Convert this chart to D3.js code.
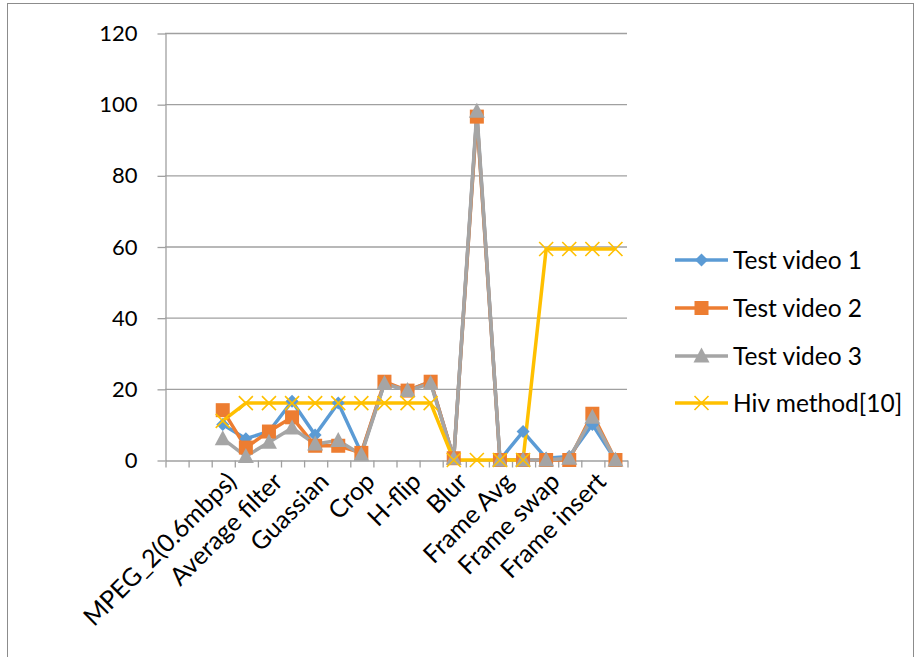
<!DOCTYPE html>
<html>
<head>
<meta charset="utf-8">
<script src="https://cdn.jsdelivr.net/npm/d3@7/dist/d3.min.js"></script>
<style>
  html, body { margin: 0; padding: 0; background: #fff; }
  svg { display: block; font-family: Lato, "Open Sans", sans-serif; }
</style>
</head>
<body>
<svg id="chart" width="917" height="657"></svg>
<script>
// ---- data ----
const categories = ["", "", "MPEG_2(0.6mbps)", "", "Average filter", "", "Guassian", "", "Crop", "",
  "H-flip", "", "Blur", "", "Frame Avg", "", "Frame swap", "", "Frame insert", ""];
const seriesNames = ["Test video 1", "Test video 2", "Test video 3", "Hiv method[10]"];
const testVideo1 = [null, null, 10, 6, 8, 16.5, 7, 16, 2, 21.5, 19.5, 22, 0.5, 97, 0, 8, 0.5, 1, 10, 0];
const testVideo2 = [null, null, 14, 3.5, 8, 12, 4, 4, 2, 22, 19.5, 22, 0.5, 96.5, 0, 0, 0, 0, 13, 0];
const testVideo3 = [null, null, 6, 1, 5, 9, 4.5, 5.5, 1.5, 21.5, 19.5, 21.5, 0.5, 98, 0, 0, 0, 0.5, 12, 0];
const hivMethod  = [null, null, 11, 16, 16, 16, 16, 16, 16, 16, 16, 16, 0, 0, 0, 0, 59.3, 59.3, 59.3, 59.3];
const yTicks = [0, 20, 40, 60, 80, 100, 120];
const colors = ["#5b9bd5", "#ed7d31", "#a5a5a5", "#ffc000"];
const markers = ["diamond", "square", "triangle", "cross"];

// ---- layout ----
const svg = d3.select("#chart");
const plot = { left: 165, right: 627, top: 33, bottom: 460 };

// border
svg.append("rect").attr("x", 7.5).attr("y", 3.5).attr("width", 906).attr("height", 670)
  .attr("fill", "none").attr("stroke", "#8c8c8c").attr("stroke-width", 1);

const x = d3.scaleBand().domain(d3.range(categories.length)).range([plot.left, plot.right]).padding(0);
const xEdge = d3.scaleLinear().domain([0, categories.length]).range([plot.left, plot.right]);
const y = d3.scaleLinear().domain([0, 120]).range([plot.bottom, plot.top]);

// gridlines
svg.append("g").selectAll("line").data(yTicks.filter(t => t > 0)).join("line")
  .attr("x1", plot.left).attr("x2", plot.right)
  .attr("y1", d => y(d) + 0.5).attr("y2", d => y(d) + 0.5)
  .attr("stroke", "#a0a0a0").attr("stroke-width", 1.3);

// y axis
const yAxis = svg.append("g").attr("transform", `translate(${plot.left + 0.5},0.5)`)
  .call(d3.axisLeft(y).tickValues(yTicks).tickSizeInner(8).tickSizeOuter(0).tickPadding(20));
yAxis.select(".domain").attr("stroke", "#a0a0a0").attr("stroke-width", 1.3);
yAxis.selectAll(".tick line").attr("stroke", "#a0a0a0").attr("stroke-width", 1.3);
yAxis.selectAll(".tick text").attr("font-size", 22).attr("fill", "#000")
  .attr("font-family", "Lato, sans-serif");

// x axis (tick marks between categories)
const xAxis = svg.append("g").attr("transform", `translate(0.5,${plot.bottom + 0.5})`)
  .call(d3.axisBottom(xEdge).tickValues(d3.range(categories.length + 1)).tickFormat("")
    .tickSizeInner(7).tickSizeOuter(0));
xAxis.select(".domain").attr("stroke", "#a0a0a0").attr("stroke-width", 1.3);
xAxis.selectAll(".tick line").attr("stroke", "#a0a0a0").attr("stroke-width", 1.3);

// x labels
svg.append("g").selectAll("text")
  .data(categories.map((c, i) => ({ c, i })).filter(d => d.c !== ""))
  .join("text")
  .attr("transform", d => `translate(${x(d.i) + x.bandwidth() / 2 + 9},${plot.bottom + 17}) rotate(-45)`)
  .attr("text-anchor", "end").attr("dy", "0.35em")
  .attr("font-size", 25).attr("fill", "#000")
  .text(d => d.c);

// series
const allSeries = [testVideo1, testVideo2, testVideo3, hivMethod];
const line = d3.line()
  .defined(d => d != null)
  .x((d, i) => x(i) + x.bandwidth() / 2)
  .y(d => y(d));

allSeries.forEach((s, k) => {
  svg.append("path").datum(s)
    .attr("fill", "none").attr("stroke", colors[k]).attr("stroke-width", 3.5)
    .attr("stroke-linejoin", "round").attr("d", line);
});

function drawMarker(g, type, color, cx, cy) {
  if (type === "diamond") {
    g.append("path").attr("d", `M${cx},${cy - 6.5}L${cx + 6.5},${cy}L${cx},${cy + 6.5}L${cx - 6.5},${cy}Z`)
      .attr("fill", color);
  } else if (type === "square") {
    g.append("rect").attr("x", cx - 7).attr("y", cy - 7).attr("width", 14).attr("height", 14)
      .attr("fill", color);
  } else if (type === "triangle") {
    g.append("path").attr("d", `M${cx},${cy - 8.5}L${cx + 8},${cy + 6.5}L${cx - 8},${cy + 6.5}Z`)
      .attr("fill", color);
  } else if (type === "cross") {
    g.append("path").attr("d", `M${cx - 7},${cy - 7}L${cx + 7},${cy + 7}M${cx + 7},${cy - 7}L${cx - 7},${cy + 7}`)
      .attr("stroke", color).attr("stroke-width", 1.6).attr("fill", "none");
  }
}

allSeries.forEach((s, k) => {
  const g = svg.append("g");
  s.forEach((v, i) => {
    if (v == null) return;
    drawMarker(g, markers[k], colors[k], x(i) + x.bandwidth() / 2, y(v));
  });
});

// legend
const legendYs = [260, 308, 356, 403];
seriesNames.forEach((name, k) => {
  const g = svg.append("g");
  g.append("line").attr("x1", 675).attr("x2", 728).attr("y1", legendYs[k]).attr("y2", legendYs[k])
    .attr("stroke", colors[k]).attr("stroke-width", 3.5);
  drawMarker(g, markers[k], colors[k], 701.5, legendYs[k]);
  g.append("text").attr("x", 733).attr("y", legendYs[k]).attr("dy", "0.35em")
    .attr("font-size", 24.5).attr("fill", "#000").text(name);
});
</script>
</body>
</html>
